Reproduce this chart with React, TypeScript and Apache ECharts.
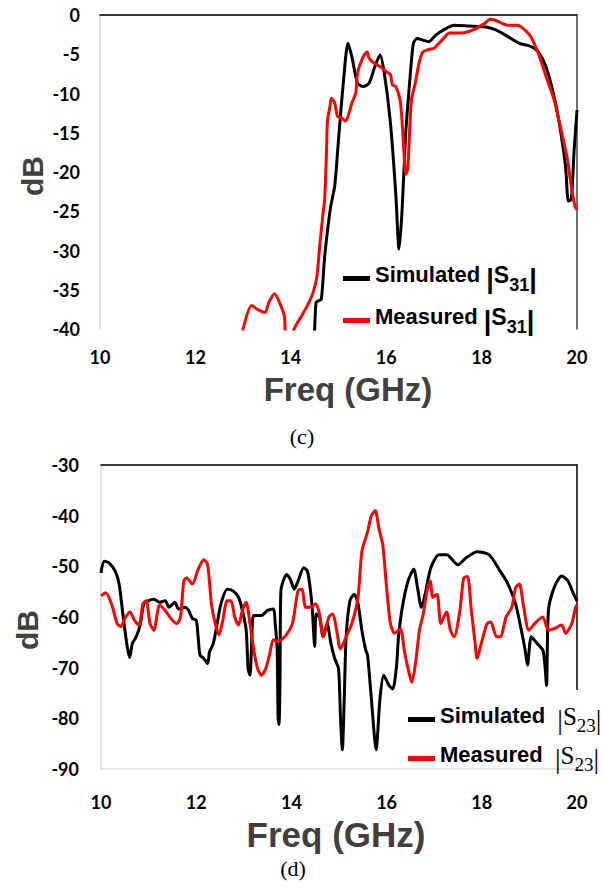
import React, { useEffect, useRef } from "react";
import * as echarts from "echarts";

// ---------- (c) |S31| ----------
const simS31Freq = [14.45, 14.5, 14.53, 14.58, 14.64, 14.71, 14.83, 14.92, 15.0, 15.1, 15.2, 15.28, 15.4, 15.52, 15.64, 15.76, 15.87, 15.96, 16.09, 16.2, 16.27, 16.33, 16.41, 16.49, 16.57, 16.65, 16.77, 16.89, 17.05, 17.26, 17.42, 17.74, 18.06, 18.3, 18.55, 18.79, 19.03, 19.19, 19.35, 19.52, 19.64, 19.76, 19.82, 19.88, 19.94, 20.0];
const simS31Db = [-46, -40, -36.6, -36.4, -36.2, -30.8, -24.6, -21.8, -15.9, -8.7, -3.6, -5.3, -8.7, -9.1, -8.7, -6.6, -5.1, -7.4, -13.8, -22.7, -29.8, -25.2, -15, -8.7, -3.6, -3.0, -3.2, -3.4, -2.5, -1.7, -1.3, -1.4, -1.5, -1.9, -2.75, -3.6, -4.0, -4.7, -6.6, -10.4, -14.2, -19.3, -23.7, -23.5, -17.2, -12.1];

const measS31Freq = [12.98, 13.0, 13.18, 13.3, 13.46, 13.54, 13.66, 13.79, 13.87, 13.88, 13.95, 14.07, 14.19, 14.35, 14.47, 14.55, 14.6, 14.67, 14.71, 14.75, 14.77, 14.82, 14.85, 14.92, 14.98, 15.06, 15.14, 15.2, 15.28, 15.36, 15.4, 15.52, 15.6, 15.64, 15.76, 15.88, 16.0, 16.09, 16.13, 16.2, 16.29, 16.33, 16.37, 16.41, 16.45, 16.49, 16.53, 16.61, 16.69, 16.77, 16.89, 17.01, 17.17, 17.33, 17.58, 17.82, 18.06, 18.18, 18.3, 18.55, 18.75, 18.87, 19.03, 19.19, 19.35, 19.52, 19.68, 19.8, 19.88, 19.96, 20.0];
const measS31Db = [-42, -40, -37, -37.5, -37.9, -36.6, -35.5, -37, -38.5, -40, -43, -40, -38.7, -37, -35.3, -33.2, -29.8, -25.6, -23.5, -17.2, -13.4, -11.7, -10.6, -11.2, -12.9, -13.1, -13.5, -12.9, -11.2, -10, -7.4, -5.3, -4.7, -5.5, -6.2, -6.6, -7.2, -7.6, -8.9, -9.1, -10.8, -13.3, -17.2, -20.3, -19.7, -15, -10.8, -8.7, -6.1, -4.7, -4.4, -4.2, -3.2, -2.3, -2.3, -1.9, -1.1, -0.55, -0.7, -1.3, -1.3, -1.7, -2.75, -4.9, -7.8, -10.8, -15, -18.4, -21.8, -24.4, -24.8];

// ---------- (d) |S23| ----------
const simS23Freq = [10.0, 10.07, 10.18, 10.3, 10.38, 10.46, 10.54, 10.6, 10.66, 10.74, 10.83, 10.9, 10.99, 11.11, 11.23, 11.35, 11.43, 11.55, 11.63, 11.76, 11.84, 11.92, 12.0, 12.04, 12.08, 12.16, 12.24, 12.28, 12.36, 12.44, 12.52, 12.65, 12.77, 12.89, 12.97, 13.05, 13.09, 13.13, 13.17, 13.21, 13.37, 13.5, 13.62, 13.66, 13.7, 13.72, 13.74, 13.76, 13.78, 13.9, 13.98, 14.06, 14.14, 14.26, 14.34, 14.43, 14.49, 14.52, 14.59, 14.67, 14.75, 14.83, 14.91, 14.99, 15.03, 15.07, 15.11, 15.15, 15.23, 15.32, 15.4, 15.48, 15.56, 15.6, 15.68, 15.78, 15.86, 15.94, 16.05, 16.13, 16.21, 16.25, 16.33, 16.45, 16.57, 16.65, 16.73, 16.81, 16.93, 17.1, 17.26, 17.5, 17.66, 17.9, 18.15, 18.39, 18.55, 18.71, 18.83, 18.91, 18.96, 19.04, 19.16, 19.28, 19.32, 19.36, 19.4, 19.52, 19.68, 19.81, 19.93, 20.0];
const simS23Db = [-51.3, -49.0, -49.4, -51.0, -53.5, -59.4, -65.2, -68.0, -65.2, -63.9, -61.3, -57.4, -56.8, -56.5, -57.1, -56.8, -58.1, -57.1, -58.4, -58.1, -58.7, -60.3, -60.6, -63.9, -67.5, -68.2, -69.2, -66.9, -65.2, -61.3, -57.4, -54.5, -54.8, -56.1, -58.7, -62.6, -70.2, -71.5, -63.9, -59.7, -59.7, -58.7, -58.4, -61.3, -66.2, -79.5, -81.2, -72.9, -54.8, -51.6, -52.6, -54.5, -52.9, -50.3, -51.0, -57.4, -65.8, -59.4, -60.0, -63.9, -61.3, -65.2, -68.2, -70.2, -79.5, -86.2, -76.2, -63.9, -56.8, -55.5, -57.4, -62.6, -66.5, -67.5, -76.2, -86.2, -76.2, -71.5, -73.5, -74.2, -69.5, -63.9, -58.1, -52.9, -50.6, -54.2, -58.1, -55.5, -50.3, -47.7, -47.7, -49.7, -48.4, -47.1, -47.7, -51.0, -53.5, -57.4, -62.6, -66.5, -69.5, -63.9, -65.2, -66.5, -68.9, -73.5, -58.7, -54.2, -51.9, -52.9, -55.5, -56.8];

const measS23Freq = [10.0, 10.1, 10.22, 10.34, 10.42, 10.5, 10.61, 10.7, 10.8, 10.88, 10.95, 11.03, 11.11, 11.23, 11.35, 11.47, 11.59, 11.67, 11.74, 11.8, 11.92, 12.04, 12.16, 12.24, 12.32, 12.4, 12.48, 12.56, 12.65, 12.73, 12.81, 12.89, 12.97, 13.05, 13.13, 13.21, 13.29, 13.37, 13.46, 13.54, 13.62, 13.7, 13.86, 14.02, 14.14, 14.22, 14.3, 14.39, 14.51, 14.59, 14.67, 14.79, 14.87, 14.95, 15.03, 15.15, 15.27, 15.4, 15.48, 15.6, 15.68, 15.76, 15.84, 15.92, 16.0, 16.08, 16.17, 16.29, 16.37, 16.45, 16.53, 16.61, 16.69, 16.77, 16.85, 16.92, 16.97, 17.06, 17.14, 17.26, 17.34, 17.42, 17.54, 17.62, 17.7, 17.78, 17.86, 17.9, 17.99, 18.11, 18.19, 18.31, 18.39, 18.51, 18.63, 18.71, 18.79, 18.87, 18.99, 19.11, 19.28, 19.4, 19.52, 19.68, 19.76, 19.89, 19.97, 20.0];
const measS23Db = [-55.8, -55.2, -57.4, -61.3, -61.9, -60.3, -59.0, -60.6, -61.6, -57.4, -56.8, -61.3, -62.6, -57.7, -58.7, -60.3, -61.3, -60.0, -52.9, -52.3, -53.5, -50.6, -48.7, -49.7, -57.4, -61.3, -63.5, -60.6, -56.8, -56.8, -60.0, -61.6, -58.7, -57.1, -61.3, -66.5, -70.2, -71.5, -70.2, -67.5, -64.5, -64.8, -63.9, -61.3, -54.8, -54.5, -58.1, -58.1, -57.4, -59.4, -63.9, -60.0, -59.4, -62.6, -66.3, -63.9, -61.3, -56.1, -47.1, -43.2, -40.0, -39.0, -42.6, -45.8, -54.2, -61.3, -63.2, -62.3, -66.5, -70.2, -72.9, -68.9, -62.6, -59.4, -54.8, -52.9, -56.1, -55.5, -61.3, -59.0, -62.6, -63.9, -58.7, -52.3, -52.0, -58.7, -65.2, -68.2, -65.2, -61.3, -61.0, -63.9, -63.9, -60.0, -58.1, -54.2, -53.5, -57.4, -62.6, -61.3, -60.0, -62.6, -62.3, -61.6, -63.2, -61.3, -58.1, -57.7];

const freqRange = [10, 20];
const s31Range = [-40, 0];
const s23Range = [-90, -30];

const seriesNames = ["Simulated |S31|", "Measured |S31|", "Simulated |S23|", "Measured |S23|"];
const legendRich: Record<string, string> = {
  "Simulated |S31|": "{t|Simulated }{p||}{b|S}{s|31}{p||}",
  "Measured |S31|": "{t|Measured }{p||}{b|S}{s|31}{p||}",
  "Simulated |S23|": "{t|Simulated  }{sp||}{sb|S}{ss|23}{sp||}",
  "Measured |S23|": "{t|Measured  }{sp||}{sb|S}{ss|23}{sp||}",
};

const pairs = (xs: number[], ys: number[]) => xs.map((x, i) => [x, ys[i]]);

const tickFont = {
  fontFamily: "Lato, 'Open Sans', sans-serif",
  fontWeight: "bold" as const,
  fontSize: 18,
  color: "#000",
};

const SANS = "'Liberation Sans', Arial, sans-serif";
const SERIF = "'Liberation Serif', 'Times New Roman', serif";
const LH = 31;

const legendRichStyles = {
  t: { fontFamily: SANS, fontWeight: "bold", fontSize: 22, color: "#000", lineHeight: LH, verticalAlign: "top" },
  b: { fontFamily: SANS, fontWeight: "bold", fontSize: 23, color: "#000", lineHeight: LH, verticalAlign: "top" },
  p: { fontFamily: SANS, fontWeight: "bold", fontSize: 27, color: "#000", lineHeight: LH },
  s: { fontFamily: SANS, fontWeight: "bold", fontSize: 18, color: "#000", verticalAlign: "bottom" },
  sb: { fontFamily: SERIF, fontSize: 25, color: "#000", lineHeight: LH, verticalAlign: "top" },
  sp: { fontFamily: SERIF, fontSize: 28, color: "#000", lineHeight: LH },
  ss: { fontFamily: SERIF, fontSize: 19, color: "#000", verticalAlign: "bottom" },
};

function buildOption() {
  const xBase = (gridIndex: number, margin: number) => ({
    type: "value",
    gridIndex,
    min: freqRange[0],
    max: freqRange[1],
    interval: 2,
    axisLine: { show: true, lineStyle: { color: "#d9d9d9", width: 1.5 } },
    axisTick: { show: false },
    splitLine: { show: false },
    axisLabel: { ...tickFont, margin },
  });
  const xTop = (gridIndex: number) => ({
    type: "value",
    gridIndex,
    position: "top",
    min: freqRange[0],
    max: freqRange[1],
    axisLine: { show: true, onZero: false, lineStyle: { color: "#000", width: 1.5 } },
    axisTick: { show: false },
    splitLine: { show: false },
    axisLabel: { show: false },
  });
  const yLeft = (gridIndex: number, range: number[], interval: number, margin: number) => ({
    type: "value",
    gridIndex,
    min: range[0],
    max: range[1],
    interval,
    axisLine: { show: true, onZero: false, lineStyle: { color: "#d9d9d9", width: 1.5 } },
    axisTick: { show: false },
    splitLine: { show: false },
    axisLabel: { ...tickFont, margin },
  });
  const yRight = (gridIndex: number, range: number[], color: string) => ({
    type: "value",
    gridIndex,
    position: "right",
    min: range[0],
    max: range[1],
    axisLine: { show: true, onZero: false, lineStyle: { color, width: 1.5 } },
    axisTick: { show: false },
    splitLine: { show: false },
    axisLabel: { show: false },
  });

  const lineSeries = (name: string, data: number[][], color: string, axisIdx: number) => ({
    name,
    type: "line",
    data,
    xAxisIndex: axisIdx,
    yAxisIndex: axisIdx,
    showSymbol: false,
    symbol: "none",
    smooth: 0.25,
    clip: true,
    color,
    lineStyle: { color, width: 3 },
    itemStyle: { color },
    z: 3,
  });

  const legendBase = {
    orient: "vertical",
    icon: "rect",
    itemWidth: 27,
    itemHeight: 5,
    formatter: (name: string) => legendRich[name],
    textStyle: { rich: legendRichStyles },
    selectedMode: false,
    padding: 0,
    z: 6,
  };

  return {
    animation: false,
    backgroundColor: "#fff",
    grid: [
      { left: 100, top: 15, width: 477, height: 314, containLabel: false },
      { left: 101, top: 465, width: 476, height: 304, containLabel: false },
    ],
    xAxis: [xBase(0, 19), xTop(0), xBase(1, 24), xTop(1)],
    yAxis: [
      yLeft(0, s31Range, 5, 20),
      yRight(0, s31Range, "#404040"),
      yLeft(1, s23Range, 10, 22),
      yRight(1, s23Range, "#000"),
    ],
    legend: [
      { ...legendBase, data: [seriesNames[0], seriesNames[1]], left: 343, top: 263, itemGap: 11 },
      { ...legendBase, data: [seriesNames[2], seriesNames[3]], left: 408, top: 704, itemGap: 8 },
    ],
    series: [
      lineSeries(seriesNames[0], pairs(simS31Freq, simS31Db), "#000", 0),
      lineSeries(seriesNames[1], pairs(measS31Freq, measS31Db), "#ff0000", 0),
      lineSeries(seriesNames[2], pairs(simS23Freq, simS23Db), "#000", 2),
      lineSeries(seriesNames[3], pairs(measS23Freq, measS23Db), "#ff0000", 2),
    ],
    graphic: [
      { type: "rect", z: 5, shape: { x: 404, y: 690, width: 199, height: 77 }, style: { fill: "#fff" } },
      {
        type: "text", x: 32, y: 176, rotation: Math.PI / 2,
        style: { text: "dB", fontFamily: SANS, fontWeight: "bold", fontSize: 30, fill: "#404040", align: "center", verticalAlign: "middle" },
      },
      {
        type: "text", x: 27, y: 630, rotation: Math.PI / 2,
        style: { text: "dB", fontFamily: SANS, fontWeight: "bold", fontSize: 30, fill: "#404040", align: "center", verticalAlign: "middle" },
      },
      {
        type: "text", x: 348, y: 389,
        style: { text: "Freq (GHz)", fontFamily: SANS, fontWeight: "bold", fontSize: 33, fill: "#404040", align: "center", verticalAlign: "middle" },
      },
      {
        type: "text", x: 336, y: 834,
        style: { text: "Freq (GHz)", fontFamily: SANS, fontWeight: "bold", fontSize: 35, fill: "#404040", align: "center", verticalAlign: "middle" },
      },
      {
        type: "text", x: 302, y: 436,
        style: { text: "(c)", fontFamily: SERIF, fontSize: 22, fill: "#000", align: "center", verticalAlign: "middle" },
      },
      {
        type: "text", x: 293, y: 868,
        style: { text: "(d)", fontFamily: SERIF, fontSize: 22, fill: "#000", align: "center", verticalAlign: "middle" },
      },
    ],
  };
}

export default function App() {
  const ref = useRef<HTMLDivElement>(null);
  useEffect(() => {
    if (!ref.current) return;
    const chart = echarts.init(ref.current, null, { renderer: "svg" });
    chart.setOption(buildOption() as any);
    return () => chart.dispose();
  }, []);
  return (
    <div
      ref={ref}
      style={{ position: "absolute", left: 0, top: 0, width: 603, height: 888, background: "#fff" }}
    />
  );
}
